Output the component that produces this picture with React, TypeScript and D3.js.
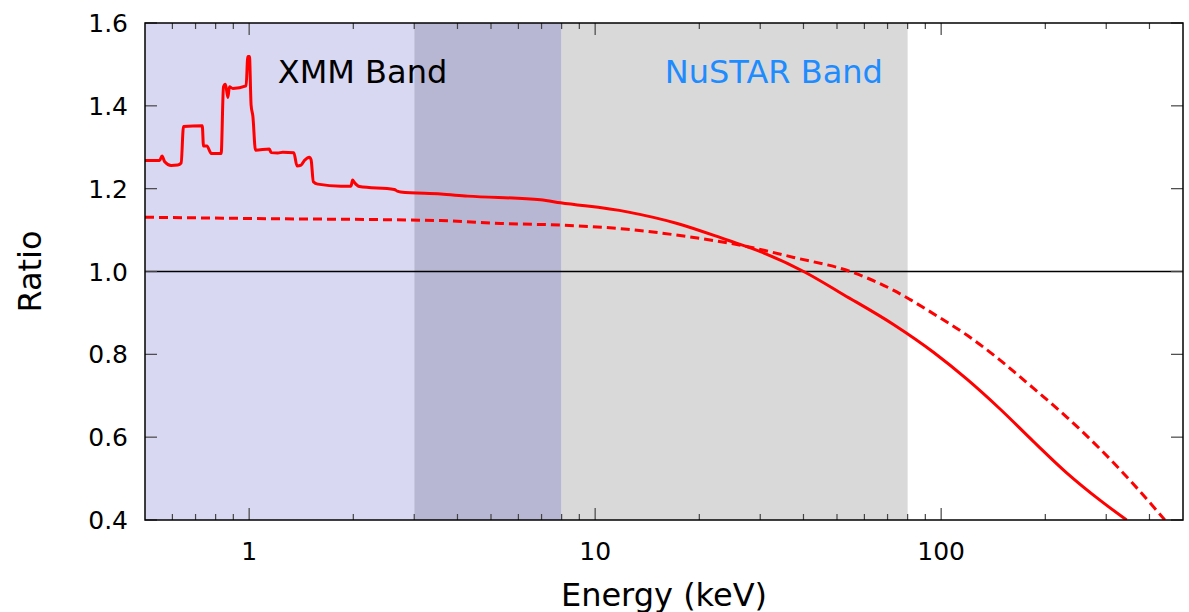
import React from 'react';
import * as d3 from 'd3';

// model / data ratio (energy in keV, ratio)
const solidEnergy = [0.5, 0.551, 0.56, 0.57, 0.595, 0.622, 0.636, 0.646, 0.732, 0.738, 0.755, 0.777, 0.83, 0.843, 0.854, 0.868, 0.877, 0.897, 0.98, 0.991, 1.002, 1.013, 1.025, 1.043, 1.144, 1.157, 1.21, 1.251, 1.346, 1.375, 1.413, 1.444, 1.493, 1.51, 1.533, 1.579, 1.842, 1.97, 1.99, 2.015, 2.083, 2.627, 2.68, 2.74, 3.58, 4.28, 6.95, 7.94, 12.38, 17.27, 24.07, 30.03, 40.05, 52.25, 72.8, 95, 118.7, 148, 184.6, 230.5, 287.6, 343.6];
const solidRatio = [1.268, 1.268, 1.279, 1.265, 1.256, 1.257, 1.262, 1.35, 1.352, 1.303, 1.303, 1.285, 1.285, 1.446, 1.452, 1.42, 1.446, 1.442, 1.448, 1.519, 1.519, 1.402, 1.375, 1.293, 1.296, 1.287, 1.286, 1.288, 1.287, 1.255, 1.257, 1.268, 1.276, 1.27, 1.217, 1.211, 1.206, 1.206, 1.221, 1.215, 1.205, 1.198, 1.194, 1.192, 1.187, 1.182, 1.173, 1.166, 1.144, 1.116, 1.076, 1.048, 1.0, 0.944, 0.872, 0.805, 0.74, 0.668, 0.59, 0.514, 0.448, 0.4];

const dashedEnergy = [0.5, 1, 3.58, 5.33, 7.94, 12.38, 19.28, 26.88, 37.48, 54.6, 72.7, 81.4, 99.3, 118.9, 148, 184.3, 231, 287.6, 358.2, 443.2];
const dashedRatio = [1.131, 1.128, 1.123, 1.116, 1.112, 1.102, 1.082, 1.062, 1.034, 1.0, 0.955, 0.932, 0.888, 0.846, 0.786, 0.719, 0.648, 0.572, 0.488, 0.4];

const bands = [
  { from: 0.5, to: 3, fill: '#d8d8f3' },
  { from: 3, to: 8, fill: '#b7b7d3' },
  { from: 8, to: 80, fill: '#d9d9d9' },
];

const xTickLabels = [1, 10, 100];
const yTicks = [0.4, 0.6, 0.8, 1.0, 1.2, 1.4, 1.6];

const W = 1189;
const H = 612;
const margin = { top: 23, right: 6, bottom: 92, left: 145 };
const font = 'DejaVu Sans, sans-serif';

const App = () => {
  const x = d3.scaleLog().domain([0.5, 500]).range([margin.left, W - margin.right]);
  const y = d3.scaleLinear().domain([0.4, 1.6]).range([H - margin.bottom, margin.top]);

  const lineGen = d3.line<[number, number]>()
    .x((d) => x(d[0]))
    .y((d) => y(d[1]))
    .curve(d3.curveMonotoneX);

  const solid: [number, number][] = solidEnergy.map((e, i) => [e, solidRatio[i]]);
  const dashed: [number, number][] = dashedEnergy.map((e, i) => [e, dashedRatio[i]]);

  // minor + major log ticks inside the domain
  const xTicks: { v: number; major: boolean }[] = [];
  for (let dec = 0.1; dec <= 100; dec *= 10) {
    for (let m = 1; m <= 9; m++) {
      const v = +(dec * m).toPrecision(3);
      if (v > 0.5 && v < 500) xTicks.push({ v, major: m === 1 });
    }
  }

  const x0 = x.range()[0];
  const x1 = x.range()[1];
  const y0 = y.range()[0];
  const y1 = y.range()[1];

  return (
    <svg width={W} height={H} style={{ position: 'absolute', left: 0, top: 0, display: 'block' }} fontFamily={font}>
      <rect x={0} y={0} width={W} height={H} fill="#fff" />
      {bands.map((b, i) => (
        <rect key={i} x={x(b.from)} y={y1} width={x(b.to) - x(b.from)} height={y0 - y1} fill={b.fill} />
      ))}

      <text x={x(1.21)} y={83} fontSize={32} fill="#000">XMM Band</text>
      <text x={x(15.9)} y={83} fontSize={32} fill="#1e8bff">NuSTAR Band</text>

      <line x1={x0} x2={x1} y1={y(1)} y2={y(1)} stroke="#000" strokeWidth={1.5} />

      <clipPath id="plot">
        <rect x={x0} y={y1} width={x1 - x0} height={y0 - y1} />
      </clipPath>
      <g clipPath="url(#plot)">
        <path d={lineGen(dashed) || ''} fill="none" stroke="#ff0000" strokeWidth={3} strokeDasharray="9,5" />
        <path d={lineGen(solid) || ''} fill="none" stroke="#ff0000" strokeWidth={3} strokeLinejoin="round" />
      </g>

      {/* ticks, drawn inward on all four sides */}
      <g stroke="#444" strokeWidth={1.2}>
        {xTicks.map((t, i) => {
          const len = t.major ? 12 : 6;
          return (
            <g key={i}>
              <line x1={x(t.v)} x2={x(t.v)} y1={y0} y2={y0 - len} />
              <line x1={x(t.v)} x2={x(t.v)} y1={y1} y2={y1 + len} />
            </g>
          );
        })}
        {yTicks.map((v, i) => (
          <g key={i}>
            <line x1={x0} x2={x0 + 12} y1={y(v)} y2={y(v)} />
            <line x1={x1} x2={x1 - 12} y1={y(v)} y2={y(v)} />
          </g>
        ))}
      </g>

      <rect x={x0} y={y1} width={x1 - x0} height={y0 - y1} fill="none" stroke="#000" strokeWidth={1.5} />

      {xTickLabels.map((v) => (
        <text key={v} x={x(v)} y={560} fontSize={25} textAnchor="middle" fill="#000">{v}</text>
      ))}
      {yTicks.map((v) => (
        <text key={v} x={x0 - 17} y={y(v)} dy="0.36em" fontSize={25} textAnchor="end" fill="#000">{v.toFixed(1)}</text>
      ))}

      <text x={(x0 + x1) / 2} y={606} fontSize={32} textAnchor="middle" fill="#000">Energy (keV)</text>
      <text transform={`translate(41, ${(y0 + y1) / 2}) rotate(-90)`} fontSize={32} textAnchor="middle" fill="#000">Ratio</text>
    </svg>
  );
};

export default App;
